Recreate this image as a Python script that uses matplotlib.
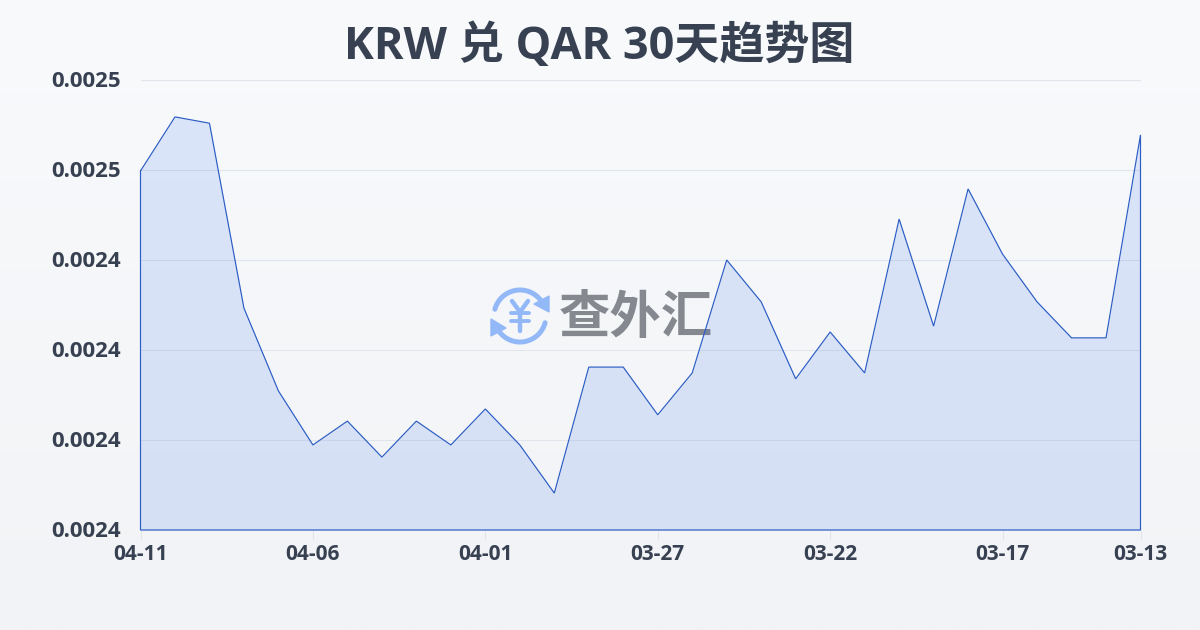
import numpy as np
import matplotlib
matplotlib.use("Agg")
import matplotlib.pyplot as plt
from matplotlib.patches import Arc, Polygon
from matplotlib.transforms import ScaledTranslation

plt.rcParams['font.family'] = ['Open Sans', 'Noto Sans CJK SC', 'DejaVu Sans']

# newest first, same order as the x axis of the picture
dates = ['04-11', '04-10', '04-09', '04-08', '04-07', '04-06', '04-05', '04-04', '04-03', '04-02',
         '04-01', '03-31', '03-30', '03-29', '03-28', '03-27', '03-26', '03-25', '03-24', '03-23',
         '03-22', '03-21', '03-20', '03-19', '03-18', '03-17', '03-16', '03-15', '03-14', '03-13']
rates = [0.0024598, 0.0024718, 0.0024704, 0.0024293, 0.0024109, 0.0023989, 0.0024042, 0.0023962,
         0.0024042, 0.0023989, 0.0024069, 0.0023989, 0.0023882, 0.0024162, 0.0024162, 0.0024056,
         0.0024149, 0.0024400, 0.0024307, 0.0024136, 0.0024240, 0.0024149, 0.0024491, 0.0024253,
         0.0024558, 0.0024413, 0.0024307, 0.0024227, 0.0024227, 0.0024678]
y_ticks = [0.00238, 0.00240, 0.00242, 0.00244, 0.00246, 0.00248]
x_tick_idx = [0, 5, 10, 15, 20, 25, 29]
title = 'KRW 兑 QAR 30天趋势图'

W, H = 1200, 630
fig = plt.figure(figsize=(W / 100, H / 100), dpi=100)

# page background, slight vertical gradient
bg = fig.add_axes([0, 0, 1, 1], zorder=0)
top, bottom = np.array([248, 250, 252]), np.array([241, 243, 246])
grad = np.linspace(0, 1, 256)[:, None, None] * (bottom - top) + top
bg.imshow(grad / 255, aspect='auto', extent=[0, W, H, 0])
bg.set_xlim(0, W)
bg.set_ylim(H, 0)
bg.axis('off')

# watermark sits under the chart
blue = '#93b8f8'
cx, cy, r = 520, 316, 26
bg.add_patch(Arc((cx, cy), 2 * r, 2 * r, theta1=195, theta2=325, color=blue, lw=3.6, capstyle='round'))
bg.add_patch(Arc((cx, cy), 2 * r, 2 * r, theta1=15, theta2=145, color=blue, lw=3.6, capstyle='round'))
bg.add_patch(Polygon([[549, 296], [549, 312], [534, 304]], color=blue))
bg.add_patch(Polygon([[491, 336], [491, 319], [506, 328]], color=blue))
# yen sign from strokes, the font glyph comes out too wide
bg.plot([cx - 8, cx, cx + 8], [cy - 15, cy - 4, cy - 15], color=blue, lw=3.2, solid_capstyle='round')
bg.plot([cx, cx], [cy - 4, cy + 15], color=blue, lw=3.2, solid_capstyle='round')
bg.plot([cx - 9, cx + 9], [cy - 3, cy - 3], color=blue, lw=2.8, solid_capstyle='round')
bg.plot([cx - 9, cx + 9], [cy + 5, cy + 5], color=blue, lw=2.8, solid_capstyle='round')
bg.text(636, 318, '查外汇', color='#85898f', fontsize=37, fontweight='bold', ha='center', va='center',
        family='Noto Sans CJK SC')

ax = fig.add_axes([140.5 / W, 1 - 530 / H, 1000 / W, 450 / H], zorder=1)
ax.patch.set_alpha(0)
x = np.arange(len(rates))
ax.fill_between(x, rates, y_ticks[0], color='#2563eb', alpha=0.135, lw=0)
ax.plot(np.r_[x, x[-1], x[0], x[0]], np.r_[rates, y_ticks[0], y_ticks[0], rates[0]],
        color='#2a5cc4', lw=0.85, solid_joinstyle='miter', clip_on=False)

ax.set_xlim(0, len(rates) - 1)
ax.set_ylim(y_ticks[0], y_ticks[-1])
ax.set_yticks(y_ticks)
ax.set_yticklabels([f'{v:.4f}' for v in y_ticks])
ax.set_xticks(x_tick_idx)
ax.set_xticklabels([dates[i] for i in x_tick_idx])
ax.grid(axis='y', color='#e2e6ec', lw=0.8)
ax.set_axisbelow(True)
for s in ax.spines.values():
    s.set_visible(False)
ax.tick_params(axis='y', length=0, pad=14, labelsize=16, labelcolor='#374151')
ax.tick_params(axis='x', length=7, width=0.8, color='#e2e6ec', pad=3, labelsize=15, labelcolor='#374151')
for t in ax.get_xticklabels() + ax.get_yticklabels():
    t.set_fontweight('bold')
# y labels sit a pixel above their grid lines
up = ScaledTranslation(0, 1 / 100, fig.dpi_scale_trans)
for t in ax.get_yticklabels():
    t.set_transform(t.get_transform() + up)

fig.text(599 / W, 1 - 47 / H, title, color='#374151', fontsize=32.4, fontweight='bold', ha='center', va='center')

fig.savefig('out.png', dpi=100)
